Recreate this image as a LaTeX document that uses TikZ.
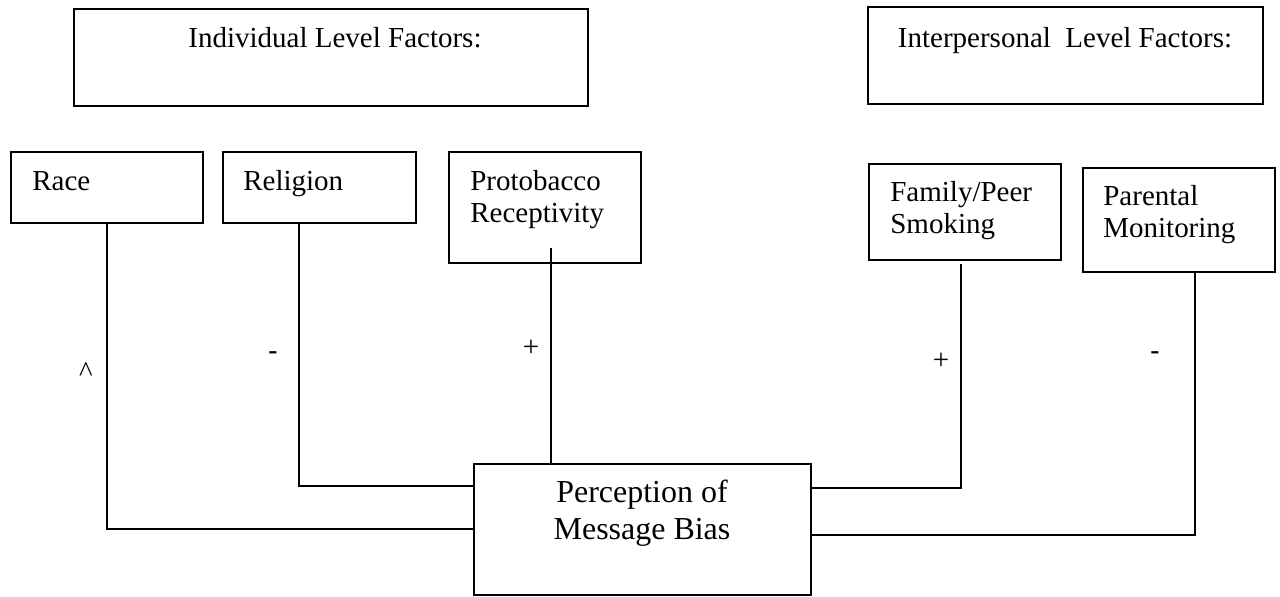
\documentclass[tikz,border=0pt]{standalone}
\usepackage{fontspec}
\setmainfont{Liberation Serif}
\newfontfamily\signfont{Liberation Sans}
\usetikzlibrary{fit}

\begin{document}
\begin{tikzpicture}[x=0.02cm,y=-0.02cm,
  box/.style={draw,line width=1.1pt,inner sep=0pt},
  txt/.style={inner sep=0pt,anchor=base west,align=left,font=\fontsize{16.5}{17.8}\selectfont},
  sign/.style={inner sep=0pt,anchor=base,font=\fontsize{16.5}{17.8}\selectfont},
  link/.style={line width=0.9pt}]
\useasboundingbox (0,0) rectangle (1280,596);
% The level headings
\node[box,fit={(74,9) (588,106)}] (indiv) {};
\node[txt,anchor=base] (indivtxt) at (335,47) {Individual Level Factors:};
\node[box,fit={(868,7) (1263,104)}] (inter) {};
\node[txt,anchor=base] (intertxt) at (1065,47) {Interpersonal~ Level Factors:};
% The factor boxes (two-line texts sit on their last baseline)
\node[box,fit={(11,152) (203,223)}] (race) {};
\node[txt] (racetxt) at (32,190) {Race};
\node[box,fit={(223,152) (416,223)}] (relig) {};
\node[txt] (religtxt) at (243,190) {Religion};
\node[box,fit={(449,152) (641,263)}] (proto) {};
\node[txt] (prototxt) at (470,222) {Protobacco\\Receptivity};
\node[box,fit={(869,164) (1061,260)}] (family) {};
\node[txt] (familytxt) at (890,233) {Family/Peer\\Smoking};
\node[box,fit={(1083,168) (1275,272)}] (parent) {};
\node[txt] (parenttxt) at (1103,237) {Parental\\Monitoring};
% The outcome
\node[box,fit={(474,464) (811,595)}] (percep) {};
\node[txt,anchor=base,align=center,font=\fontsize{18.2}{20.5}\selectfont] (perceptxt) at (642,539) {Perception of\\Message Bias};
% The links
\draw[link] (race.south) |- ([yshift=0.01cm]percep.west);
\draw[link] ([xshift=-0.41cm]relig.south) |- ([yshift=0.87cm]percep.west);
\draw[link] ([xshift=0.12cm,yshift=0.32cm]proto.south) coordinate (ptop) -- (ptop |- percep.north);
\draw[link] ([xshift=-0.08cm,yshift=-0.06cm]family.south) |- ([yshift=0.83cm]percep.east);
\draw[link] ([xshift=0.32cm]parent.south) |- ([yshift=-0.11cm]percep.east);
% The signs
\node[sign] (racesign) at (86,381) {\textasciicircum};
\node[sign,font=\signfont\fontsize{16.5}{17.8}\selectfont] (religsign) at (273,360) {-};
\node[sign] (protosign) at (531,356) {+};
\node[sign] (familysign) at (941,369) {+};
\node[sign,font=\signfont\fontsize{16.5}{17.8}\selectfont] (parentsign) at (1155,360) {-};
\end{tikzpicture}
\end{document}
